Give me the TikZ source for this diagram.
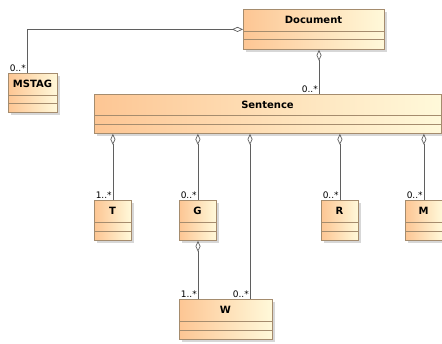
\documentclass[tikz,border=0pt]{standalone}
\usepackage{fontspec}
\setmainfont{DejaVu Sans}
\usetikzlibrary{arrows.meta,shadows}
\definecolor{cL}{RGB}{253,198,148}
\definecolor{cR}{RGB}{255,249,218}
\definecolor{bd}{RGB}{165,140,110}
\definecolor{ln}{RGB}{95,95,95}
\tikzset{
  cls/.style={draw=bd, line width=0.8pt, shading=axis, left color=cL, right color=cR, inner sep=0pt,
    drop shadow={shadow xshift=2.5pt, shadow yshift=-2.5pt, fill=black!35, opacity=0.45}},
  ttl/.style={font=\bfseries\fontsize{10}{11}\selectfont, inner sep=0pt},
  mult/.style={font=\fontsize{9}{10}\selectfont, inner sep=1pt, anchor=south east},
  agg/.style={draw=ln, line width=0.7pt, {Diamond[open,length=11pt,width=5pt,line width=0.7pt]}-},
}
\newcommand\umlcls[8]{%
  \node[cls, anchor=north west, minimum width={(#4-#2)*1pt}, minimum height={(#5-#3)*1pt}] (#1) at (#2,#3) {};
  \draw[bd, line width=0.8pt] (#2,#7) -- (#4,#7) (#2,#8) -- (#4,#8);
  \node[ttl] (#1-t) at ({(#2+#4)/2},{(#3+#7)/2}) {#6};
}
\begin{document}
\begin{tikzpicture}[x=1pt,y=-1pt]
\useasboundingbox (0,0) rectangle (442,343);
\umlcls{doc}{243}{9}{384}{49}{Document}{31}{39}
\umlcls{mstag}{8}{73}{57}{112}{MSTAG}{95}{103}
\umlcls{sent}{94}{94}{441}{133}{Sentence}{115}{124}
\umlcls{t}{94}{200}{131}{240}{T}{222}{231}
\umlcls{g}{179}{200}{216}{240}{G}{222}{231}
\umlcls{r}{321}{200}{358}{240}{R}{222}{231}
\umlcls{m}{405}{200}{442}{240}{M}{222}{231}
\umlcls{w}{179}{299}{272}{339}{W}{321}{330}
\coordinate (mx) at (27,0);
\coordinate (dx) at (319,0);
\coordinate (gx) at (198,0);
\coordinate (wx) at (250,0);
\draw[agg] (doc.west) -- (doc.west -| mx) -- (mstag.north -| mx);
\draw[agg] (doc.south -| dx) -- (sent.north -| dx);
\draw[agg] (sent.south -| t.north) -- (t.north);
\draw[agg] (sent.south -| g.north) -- (g.north);
\draw[agg] (sent.south -| wx) -- (w.north -| wx);
\draw[agg] (sent.south -| r.north) -- (r.north);
\draw[agg] (sent.south -| m.north) -- (m.north);
\draw[agg] (g.south -| gx) -- (w.north -| gx);
\node[mult] (l1) at (mstag.north -| mx) {0..*};
\node[mult] (l2) at (sent.north -| dx) {0..*};
\node[mult] (l3) at (t.north) {1..*};
\node[mult] (l4) at (g.north) {0..*};
\node[mult] (l5) at (r.north) {0..*};
\node[mult] (l6) at (m.north) {0..*};
\node[mult] (l7) at (w.north -| gx) {1..*};
\node[mult] (l8) at (w.north -| wx) {0..*};
\end{tikzpicture}
\end{document}
